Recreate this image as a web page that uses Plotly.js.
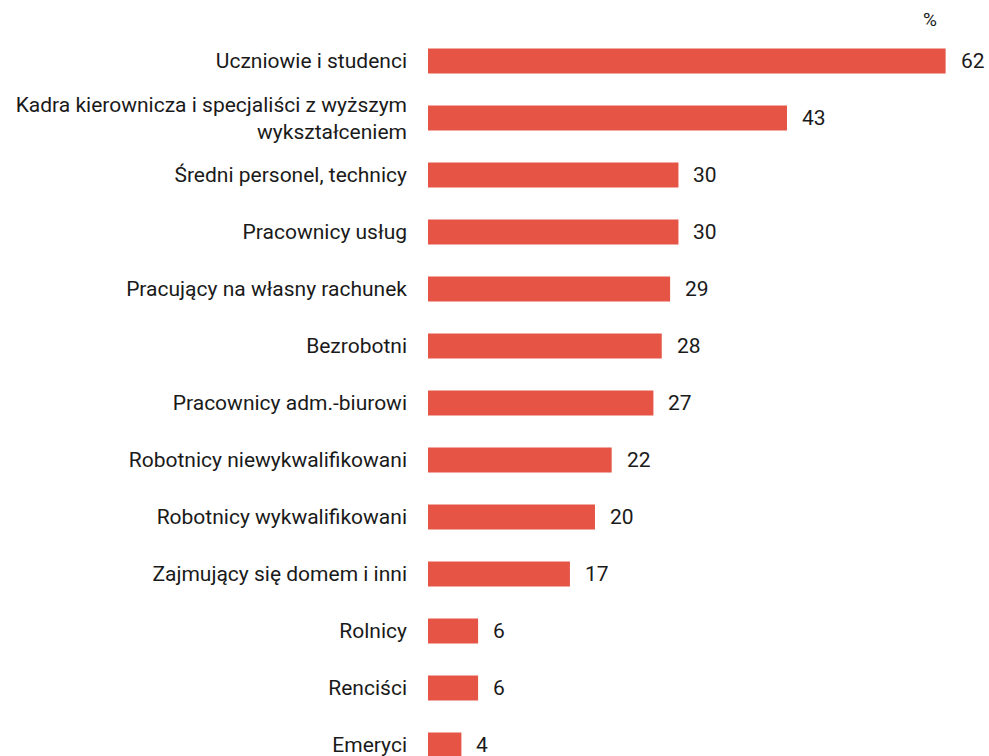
<!DOCTYPE html>
<html>
<head>
<meta charset="utf-8">
<script src="https://cdn.plot.ly/plotly-3.0.1.min.js"></script>
<style>html,body{margin:0;padding:0;background:#fff;}#chart{width:989px;height:756px;}</style>
</head>
<body>
<div id="chart"></div>
<script>
const categories = [
  "Uczniowie i studenci",
  "Kadra kierownicza i specjaliści z wyższym<br>wykształceniem",
  "Średni personel, technicy",
  "Pracownicy usług",
  "Pracujący na własny rachunek",
  "Bezrobotni",
  "Pracownicy adm.-biurowi",
  "Robotnicy niewykwalifikowani",
  "Robotnicy wykwalifikowani",
  "Zajmujący się domem i inni",
  "Rolnicy",
  "Renciści",
  "Emeryci"
];
const values = [62, 43, 30, 30, 29, 28, 27, 22, 20, 17, 6, 6, 4];
const unitLabel = "%";

const FONT = "Roboto, 'Open Sans', sans-serif";
const barColor = "#E55444";
const textColor = "#1a1a1a";

const trace = {
  type: "bar",
  orientation: "h",
  y: categories,
  x: values,
  marker: {color: barColor, line: {width: 0}},
  width: 0.44,
  hoverinfo: "none"
};

const annotations = values.map((v, i) => ({
  x: v, y: categories[i], xref: "x", yref: "y",
  text: String(v), showarrow: false,
  xanchor: "left", yanchor: "middle", xshift: 13,
  font: {family: FONT, size: 21, color: textColor}
}));
annotations.push({
  x: (930 - 428) / (979 - 428),
  y: 1 + (32 - 19) / (756 - 32),
  xref: "paper", yref: "paper", text: unitLabel, showarrow: false,
  xanchor: "center", yanchor: "middle",
  font: {family: FONT, size: 19, color: textColor}
});

const layout = {
  width: 989, height: 756,
  margin: {l: 428, r: 10, t: 32, b: 0, pad: 0},
  paper_bgcolor: "#ffffff",
  plot_bgcolor: "#ffffff",
  showlegend: false,
  font: {family: FONT, size: 21, color: textColor},
  xaxis: {
    range: [0, 66], showgrid: false, zeroline: false, showline: false,
    showticklabels: false, ticks: ""
  },
  yaxis: {
    type: "category",
    range: [12.193, -0.509],
    showgrid: false, zeroline: false, showline: false,
    ticks: "", ticklabelstandoff: 20,
    tickfont: {family: FONT, size: 21, color: textColor}
  },
  annotations: annotations
};

Plotly.newPlot("chart", [trace], layout, {displayModeBar: false, staticPlot: true});
</script>
</body>
</html>
